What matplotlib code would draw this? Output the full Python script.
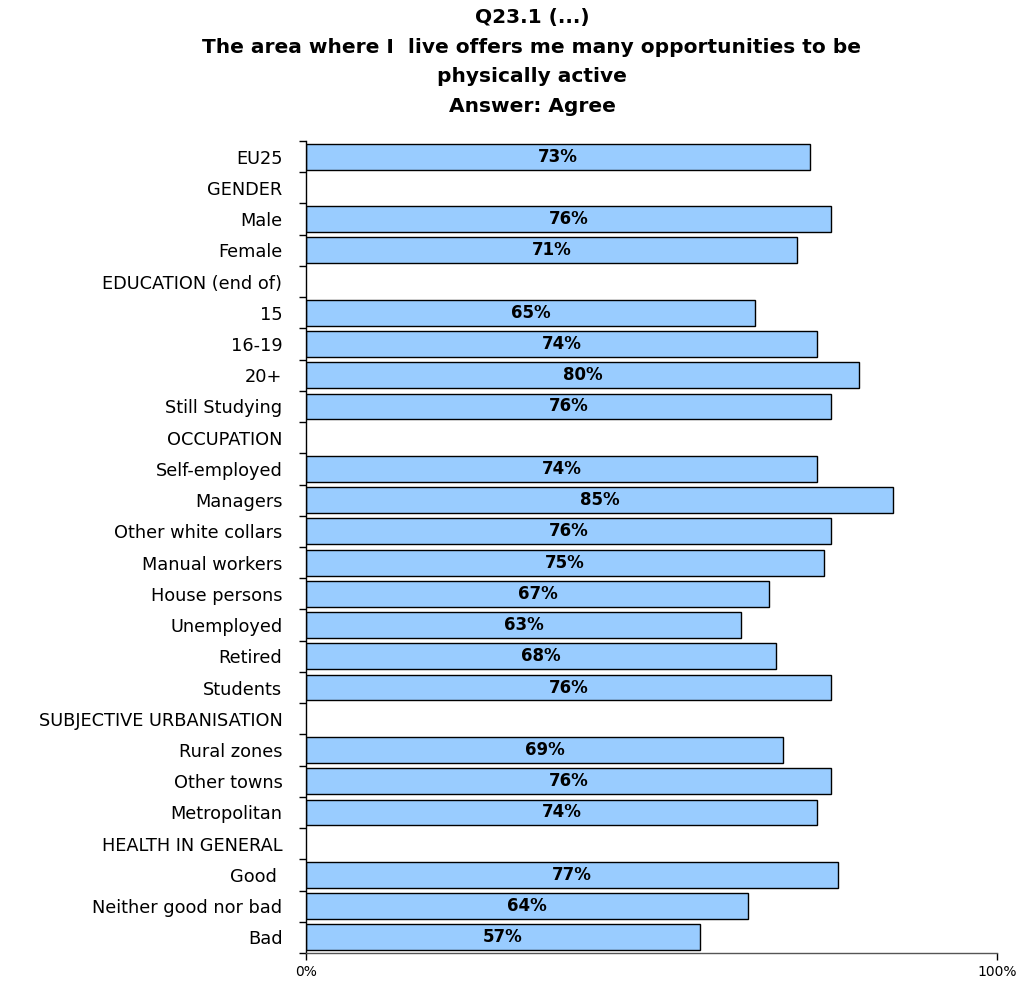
import matplotlib
matplotlib.use("Agg")
import matplotlib.pyplot as plt
import numpy as np

categories = ["EU25", "GENDER", "Male", "Female", "EDUCATION (end of)", "15", "16-19", "20+",
              "Still Studying", "OCCUPATION", "Self-employed", "Managers", "Other white collars",
              "Manual workers", "House persons", "Unemployed", "Retired", "Students",
              "SUBJECTIVE URBANISATION", "Rural zones", "Other towns", "Metropolitan",
              "HEALTH IN GENERAL", "Good ", "Neither good nor bad", "Bad"]
values = [73, None, 76, 71, None, 65, 74, 80, 76, None, 74, 85, 76, 75, 67, 63, 68, 76,
          None, 69, 76, 74, None, 77, 64, 57]
xtick_labels = ["0%", "100%"]

W, H = 1023, 984
fig = plt.figure(figsize=(W / 100, H / 100), dpi=100)
ax = fig.add_axes([306 / W, 1 - 953 / H, (997 - 306) / W, (953 - 141) / H])

n = len(categories)
ypos = np.arange(n)
for y, v in zip(ypos, values):
    if v is None:
        continue
    ax.barh(y, v, height=0.83, color="#99CCFF", edgecolor="black", linewidth=1.0, zorder=2)
    ax.text(v / 2, y, f"{v}%", ha="center", va="center", fontsize=12, fontweight="bold", zorder=3)

ax.set_ylim(n - 0.5, -0.5)
ax.set_xlim(0, 100)
ax.set_yticks(ypos)
ax.set_yticklabels(categories, fontsize=12.8)
ax.tick_params(axis="y", length=0, pad=17)
ax.set_yticks(np.arange(-0.5, n, 1), minor=True)
ax.tick_params(axis="y", which="minor", length=5, width=1, direction="out")
ax.set_xticks([0, 100])
ax.set_xticklabels(xtick_labels, fontsize=10)
ax.tick_params(axis="x", length=5, width=1, direction="out", pad=4)

ax.spines["top"].set_visible(False)
ax.spines["right"].set_visible(False)
ax.spines["left"].set_linewidth(1.0)
ax.spines["bottom"].set_linewidth(1.0)
ax.spines["bottom"].set_color("#555555")

title_lines = ["Q23.1 (...)",
               "The area where I  live offers me many opportunities to be",
               "physically active",
               "Answer: Agree"]
for i, line in enumerate(title_lines):
    fig.text(532 / W, 1 - (18 + i * 29.5) / H, line, ha="center", va="center",
             fontsize=14.5, fontweight="bold")

fig.savefig("out.png", dpi=100)
